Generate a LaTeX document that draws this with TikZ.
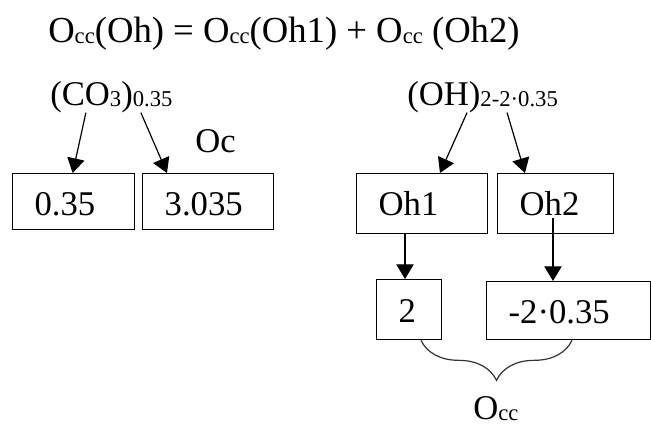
\documentclass[tikz,border=0pt]{standalone}
\usepackage{fontspec}
\setmainfont{Liberation Serif}
\usepackage{tikz}
\usetikzlibrary{arrows.meta,calc}
\usetikzlibrary{decorations.pathreplacing}
\newcommand{\subsize}{\fontsize{17pt}{17pt}\selectfont}
\newcommand{\lo}[1]{\raisebox{-1pt}{\subsize #1}}

\begin{document}
\begin{tikzpicture}[x=0.75pt, y=-0.75pt,
	every node/.style={inner sep=0pt, font=\fontsize{26pt}{30pt}\selectfont},
	txt/.style={anchor=base west},
	box/.style={draw, line width=1pt, anchor=north west, align=left, inner xsep=16.5pt, inner ysep=0pt},
	arr/.style={line width=0.9pt, -{Triangle[length=11pt, width=13pt]}}]
	% The frame:
	\useasboundingbox (0,0) rectangle (651,426);
	% Formula on top:
	\node[txt, font=\fontsize{27.5pt}{30pt}\selectfont] (occ) at (48,42)
		{O\lo{cc}(Oh) = O\lo{cc}(Oh1) + O\lo{cc} (Oh2)};
	% Left part:
	\node[txt] (co3) at (50,105) {(CO\lo{3})\lo{0.35}};
	\node[txt] (oc) at (195,152) {Oc};
	\node[box, text width=58.5pt, text height=31.5pt, text depth=10.5pt] (b035) at (12,173) {0.35};
	\node[box, text width=65.25pt, text height=31.5pt, text depth=10.5pt] (b3035) at (142,173) {3.035};
	\draw[arr] ($(co3.south)+(-25.5,0)$) -- ($(b035.north)+(-1,0)$);
	\draw[arr] ($(co3.south)+(29.5,0)$) -- ($(b3035.north west)+(25,0)$);
	% Right part:
	\node[txt] (oh) at (407,105) {(OH)\lo{2-2·0.35}};
	\node[box, text width=65.25pt, text height=31.5pt, text depth=13.5pt] (oh1) at (356,173) {Oh1};
	\node[box, text width=54pt, text height=31.5pt, text depth=13.5pt] (oh2) at (497,173) {Oh2};
	\node[box, text width=15.75pt, text height=32.25pt, text depth=12.75pt] (two) at (376,279) {2};
	\node[box, text width=90pt, text height=31.5pt, text depth=12pt] (minus) at (486,281) {-2·0.35};
	\coordinate (oh2in) at ($(oh2.south west)+(56,-16)$);
	\draw[arr] ($(oh.south)+(-15.5,0)$) -- ($(oh1.north west)+(84,0)$);
	\draw[arr] ($(oh.south)+(24.5,0)$) -- ($(oh2.north west)+(28,0)$);
	\draw[arr] ($(oh1.south west)+(49,0)$) -- ($(two.north west)+(29,0)$);
	\draw[arr] (oh2in) -- ($(minus.north west)+(67,0)$);
	% Brace and sum:
	\draw[black!80, line width=0.9pt, decorate, decoration={brace, mirror, amplitude=30pt}]
		($(two.south west)+(45,0)$) -- ($(minus.south west)+(86,0)$);
	\node[txt] (occbot) at (473,419) {O\lo{cc}};
\end{tikzpicture}
\end{document}
